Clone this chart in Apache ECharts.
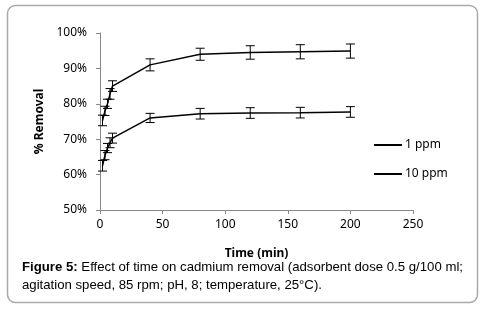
<!DOCTYPE html>
<html>
<head>
<meta charset="utf-8">
<script src="https://cdn.jsdelivr.net/npm/echarts@6/dist/echarts.min.js"></script>
<style>
  html, body { margin: 0; padding: 0; background: #fff; }
  #chart { width: 484px; height: 311px; }
</style>
</head>
<body>
<div id="chart"></div>
<script>
// time points (min)
var times = [2, 4, 6, 8, 10, 40, 80, 120, 160, 200];
// % removal, 1 ppm
var removal1 = [75.3, 78, 80, 82.8, 85, 91, 94, 94.5, 94.7, 94.9];
var err1 = [1.5, 1.3, 1.3, 1.5, 1.5, 1.7, 1.7, 1.9, 2, 2];
// % removal, 10 ppm
var removal10 = [62.5, 65.5, 67.5, 69, 70.3, 76, 77.2, 77.4, 77.5, 77.7];
var err10 = [1.5, 1.3, 1.3, 1.4, 1.4, 1.3, 1.5, 1.5, 1.5, 1.5];

function pairs(xs, ys) {
    return xs.map(function (x, i) { return [x, ys[i]]; });
}
function errData(xs, ys, es) {
    return xs.map(function (x, i) { return [x, ys[i] - es[i], ys[i] + es[i]]; });
}

// error bar with caps
function renderErr(params, api) {
    var lo = api.coord([api.value(0), api.value(1)]);
    var hi = api.coord([api.value(0), api.value(2)]);
    var w = 4.5;
    var st = { stroke: '#000', lineWidth: 1 };
    return {
        type: 'group',
        children: [
            { type: 'line', shape: { x1: lo[0], y1: lo[1], x2: hi[0], y2: hi[1] }, style: st },
            { type: 'line', shape: { x1: lo[0] - w, y1: lo[1], x2: lo[0] + w, y2: lo[1] }, style: st },
            { type: 'line', shape: { x1: hi[0] - w, y1: hi[1], x2: hi[0] + w, y2: hi[1] }, style: st }
        ]
    };
}

var myChart = echarts.init(document.getElementById('chart'));
var option = {
    animation: false,
    backgroundColor: '#fff',
    textStyle: { fontFamily: 'Noto Sans' },
    grid: { left: 100, right: 71, top: 33, bottom: 101 },
    legend: {
        left: 369,
        top: 133,
        orient: 'vertical',
        icon: 'rect',
        itemWidth: 28,
        itemHeight: 2,
        itemGap: 15,
        itemStyle: { color: '#000' },
        textStyle: { fontFamily: 'Noto Sans', fontSize: 12, color: '#000', lineHeight: 14, padding: [0, 0, 0, -2] },
        data: ['1 ppm', '10 ppm']
    },
    xAxis: {
        type: 'value',
        min: 0,
        max: 250,
        interval: 50,
        name: 'Time (min)',
        nameLocation: 'middle',
        nameGap: 38,
        nameTextStyle: { fontWeight: 'bold', fontSize: 12, color: '#000' },
        axisLine: { lineStyle: { color: '#888' } },
        axisTick: { show: true, length: 4, lineStyle: { color: '#888' } },
        axisLabel: { fontSize: 12, color: '#000', margin: 9 },
        splitLine: { show: false }
    },
    yAxis: {
        type: 'value',
        min: 50,
        max: 100,
        interval: 10,
        name: '% Removal',
        nameLocation: 'middle',
        nameGap: 45,
        nameTextStyle: { fontWeight: 'bold', fontSize: 12, color: '#000' },
        axisLine: { show: true, lineStyle: { color: '#888' } },
        axisTick: { show: true, length: 4, lineStyle: { color: '#888' } },
        axisLabel: { fontSize: 12, color: '#000', margin: 13, formatter: '{value}%' },
        splitLine: { show: false }
    },
    series: [
        {
            name: '1 ppm',
            type: 'line',
            data: pairs(times, removal1),
            symbol: 'none',
            itemStyle: { color: '#000' },
            lineStyle: { color: '#000', width: 1.5 }
        },
        {
            name: '10 ppm',
            type: 'line',
            data: pairs(times, removal10),
            symbol: 'none',
            itemStyle: { color: '#000' },
            lineStyle: { color: '#000', width: 1.5 }
        },
        {
            type: 'custom',
            renderItem: renderErr,
            data: errData(times, removal1, err1),
            z: 3
        },
        {
            type: 'custom',
            renderItem: renderErr,
            data: errData(times, removal10, err10),
            z: 3
        }
    ],
    graphic: [
        {
            type: 'rect',
            shape: { x: 7.5, y: 5.5, width: 470, height: 297, r: 8 },
            style: { fill: 'none', stroke: '#aaa', lineWidth: 1.5 },
            silent: true
        },
        {
            type: 'text',
            left: 22,
            top: 258,
            style: {
                text: '{b|Figure 5:} Effect of time on cadmium removal (adsorbent dose 0.5 g/100 ml;\nagitation speed, 85 rpm; pH, 8; temperature, 25°C).',
                fontFamily: 'Liberation Sans',
                fontSize: 13.2,
                lineHeight: 18,
                fill: '#000',
                rich: {
                    b: { fontFamily: 'Liberation Sans', fontSize: 13.2, fontWeight: 'bold', fill: '#000' }
                }
            }
        }
    ]
};
myChart.setOption(option);
</script>
</body>
</html>
